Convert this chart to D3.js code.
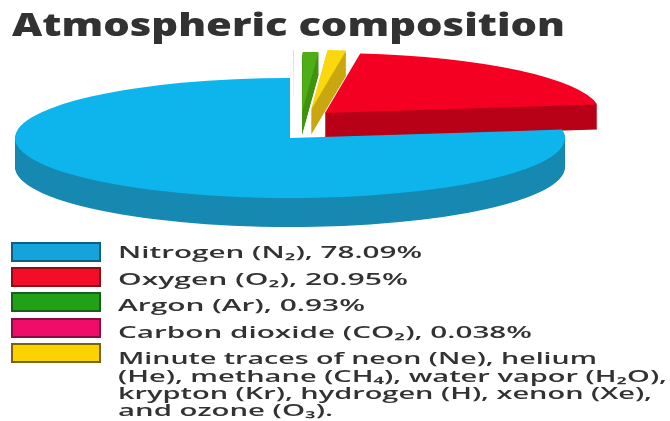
<!DOCTYPE html>
<html>
<head>
<meta charset="utf-8">
<script src="https://cdn.jsdelivr.net/npm/d3@7"></script>
<style>
  html, body { margin: 0; padding: 0; background: #fff; }
  text { font-family: "Open Sans", sans-serif; fill: #333; }
</style>
</head>
<body>
<script>
const title = "Atmospheric composition"
// clockwise from 12 o'clock, as drawn. minute traces has no printed value, read from the wedge
const gases = ["Carbon dioxide", "Argon", "Minute traces", "Oxygen", "Nitrogen"]
const shares = [0.038, 0.93, 1.1, 20.95, 78.09]
const topColors = ["#f2b0cc", "#4fae12", "#fbd80c", "#f40020", "#0cb5ec"]
const sideColors = ["#ffffff", "#3f9412", "#c9a712", "#b80018", "#1489b2"]

const legendGases = ["Nitrogen", "Oxygen", "Argon", "Carbon dioxide", "Minute traces"]
const legendFills = ["#12a3dc", "#f40a26", "#22a012", "#f00a6a", "#fbd205"]
const legendEdges = ["#0d5f80", "#8a0a1a", "#14601a", "#8a0a40", "#7a6510"]
const legendLines = [
  ["Nitrogen (N₂), 78.09%"],
  ["Oxygen (O₂), 20.95%"],
  ["Argon (Ar), 0.93%"],
  ["Carbon dioxide (CO₂), 0.038%"],
  ["Minute traces of neon (Ne), helium",
   "(He), methane (CH₄), water vapor (H₂O),",
   "krypton (Kr), hydrogen (H), xenon (Xe),",
   "and ozone (O₃)."]
]
const lineWidths = [304, 290, 247, 414, 479, 549, 534, 215]

const width = 670
const height = 421

const svg = d3.select("body").append("svg")
  .attr("width", width)
  .attr("height", height)
  .style("display", "block")

const blur = svg.append("defs").append("filter").attr("id", "soft")
blur.append("feGaussianBlur").attr("stdDeviation", 0.7)

const root = svg.append("g").attr("filter", "url(#soft)")

root.append("text")
  .attr("x", 12)
  .attr("y", 36)
  .attr("textLength", 553)
  .attr("lengthAdjust", "spacingAndGlyphs")
  .style("font-size", "31px")
  .style("font-weight", 800)
  .text(title)

// pie, squashed into an ellipse
const rx = 275
const ry = 60
const pie = d3.pie().sort(null).value(d => d)
const arc = d3.arc().innerRadius(0).outerRadius(rx)
const slices = pie(shares)

// where each wedge is pulled out to, and how thick it is
const place = {
  "Carbon dioxide": { x: 293, y: 110, depth: 0 },
  "Argon": { x: 302, y: 112, depth: 23 },
  "Minute traces": { x: 311, y: 110, depth: 25 },
  "Oxygen": { x: 325, y: 113, depth: 25 },
  "Nitrogen": { x: 290, y: 138, depth: 29 }
}

slices.forEach(s => {
  const name = gases[s.index]
  const p = place[name]
  const g = root.append("g").attr("class", "slice")

  // side wall is the same wedge stacked downwards
  d3.range(p.depth, 0, -1).forEach(i => {
    g.append("path")
      .attr("d", arc(s))
      .attr("transform", `translate(${p.x},${p.y + i}) scale(1,${ry / rx})`)
      .attr("fill", sideColors[s.index])
  })

  g.append("path")
    .attr("d", arc(s))
    .attr("transform", `translate(${p.x},${p.y}) scale(1,${ry / rx})`)
    .attr("fill", topColors[s.index])
})

// legend
const rowY = d3.scaleOrdinal().domain(legendGases).range([243, 268, 293, 319, 344])
const baseline = [258, 285, 311, 338, 364, 382, 399, 416]

legendGases.forEach((name, i) => {
  root.append("rect")
    .attr("x", 12)
    .attr("y", rowY(name))
    .attr("width", 88)
    .attr("height", 18)
    .attr("fill", legendFills[i])
    .attr("stroke", legendEdges[i])
    .attr("stroke-width", 2)
})

legendLines.flat().forEach((line, i) => {
  root.append("text")
    .attr("x", 118)
    .attr("y", baseline[i])
    .attr("textLength", lineWidths[i])
    .attr("lengthAdjust", "spacingAndGlyphs")
    .style("font-size", "17px")
    .style("font-weight", 600)
    .text(line)
})
</script>
</body>
</html>
